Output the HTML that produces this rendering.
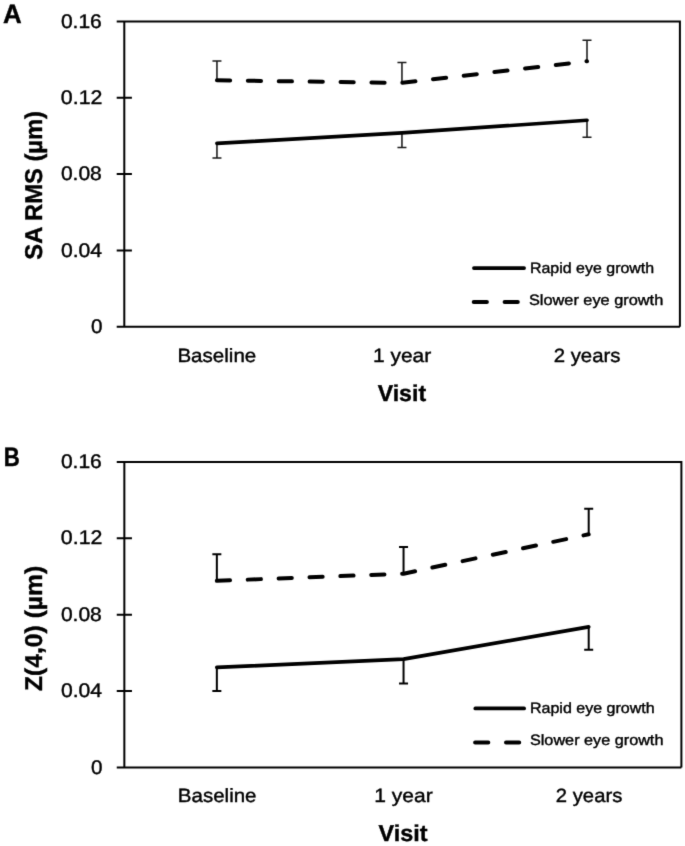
<!DOCTYPE html>
<html><head><meta charset="utf-8"><style>
html,body{margin:0;padding:0;background:#fff;}
body{width:685px;height:846px;overflow:hidden;}
svg{display:block;font-family:"Liberation Sans", sans-serif;filter:grayscale(1);text-rendering:geometricPrecision;}
text{fill:#000;stroke:#000;stroke-width:0.4px;}
</style></head><body>
<svg width="685" height="846" viewBox="0 0 685 846">
<defs><filter id="bl" x="0" y="0" width="100%" height="100%" filterUnits="userSpaceOnUse" color-interpolation-filters="sRGB"><feConvolveMatrix order="3" kernelMatrix="0.01134 0.08382 0.01134 0.08382 0.61935 0.08382 0.01134 0.08382 0.01134" edgeMode="duplicate"/></filter></defs><g filter="url(#bl)"><rect width="685" height="846" fill="#fff"/>
<path d="M124.3 21.45V326.75M116.7 326.75H679.9M116.7 21.45H679.9V326.75" fill="none" stroke="#000" stroke-width="2" stroke-linejoin="miter"/>
<path d="M116.7 97.78H131.9M116.7 174.10H131.9M116.7 250.43H131.9" stroke="#000" stroke-width="2"/>
<path d="M216.95 143.45V157.95M212.45 157.95H221.45M401.95 132.95V147.5M397.45 147.5H406.45M587.0 120.25V137.2M582.5 137.2H591.5M216.95 80.3V60.9M212.45 60.9H221.45M401.95 82.9V62.4M397.45 62.4H406.45M587.0 61.3V40.3M582.5 40.3H591.5" fill="none" stroke="#1a1a1a" stroke-width="1.55"/>
<polyline points="216.95,143.45 401.95,132.95 587.0,120.25" fill="none" stroke="#000" stroke-width="3.7" stroke-linecap="round" stroke-linejoin="round"/>
<polyline points="216.95,80.3 401.95,82.9 587.0,61.3" fill="none" stroke="#000" stroke-width="4" stroke-linecap="round" stroke-linejoin="round" stroke-dasharray="13.2 17.7"/>
<path d="M473.9 268.1H524.1" stroke="#000" stroke-width="3.7" stroke-linecap="round"/>
<path d="M473.7 302.0H518.2" stroke="#000" stroke-width="4" stroke-linecap="round" stroke-dasharray="13.2 17.7"/>
<path d="M124.35 461.9V767.45M116.75 767.45H681.4M116.75 461.9H681.4V767.45" fill="none" stroke="#000" stroke-width="2" stroke-linejoin="miter"/>
<path d="M116.75 538.29H131.95M116.75 614.67H131.95M116.75 691.06H131.95" stroke="#000" stroke-width="2"/>
<path d="M216.85 667.4V691.0M212.35 691.0H221.35M403.55 659.1V683.55M399.05 683.55H408.05M588.7 626.9V649.85M584.2 649.85H593.2M216.85 580.8V554.35M212.35 554.35H221.35M403.55 573.7V546.95M399.05 546.95H408.05M588.7 534.3V508.8M584.2 508.8H593.2" fill="none" stroke="#000" stroke-width="2.0"/>
<polyline points="216.85,667.4 403.55,659.1 588.7,626.9" fill="none" stroke="#000" stroke-width="3.7" stroke-linecap="round" stroke-linejoin="round"/>
<polyline points="216.85,580.8 403.55,573.7 588.7,534.3" fill="none" stroke="#000" stroke-width="4" stroke-linecap="round" stroke-linejoin="round" stroke-dasharray="13.2 17.7"/>
<path d="M475.3 708.4H524.1" stroke="#000" stroke-width="3.7" stroke-linecap="round"/>
<path d="M475.1 742.5H520.2" stroke="#000" stroke-width="4" stroke-linecap="round" stroke-dasharray="13.2 17.7"/>
<text x="3.11" y="22.67" font-size="26.50" font-weight="bold" textLength="18.69" lengthAdjust="spacingAndGlyphs">A</text>
<text x="3.63" y="466.30" font-size="26.50" font-weight="bold" textLength="16.05" lengthAdjust="spacingAndGlyphs">B</text>
<text x="60.90" y="27.61" font-size="19.75" textLength="40.92" lengthAdjust="spacingAndGlyphs">0.16</text>
<text x="60.88" y="103.94" font-size="19.75" textLength="41.60" lengthAdjust="spacingAndGlyphs">0.12</text>
<text x="60.90" y="180.26" font-size="19.75" textLength="40.93" lengthAdjust="spacingAndGlyphs">0.08</text>
<text x="60.91" y="256.59" font-size="19.75" textLength="41.15" lengthAdjust="spacingAndGlyphs">0.04</text>
<text x="91.08" y="332.91" font-size="19.75" textLength="11.49" lengthAdjust="spacingAndGlyphs">0</text>
<text x="60.90" y="468.06" font-size="19.75" textLength="40.92" lengthAdjust="spacingAndGlyphs">0.16</text>
<text x="60.88" y="544.45" font-size="19.75" textLength="41.60" lengthAdjust="spacingAndGlyphs">0.12</text>
<text x="60.90" y="620.83" font-size="19.75" textLength="40.93" lengthAdjust="spacingAndGlyphs">0.08</text>
<text x="60.91" y="697.22" font-size="19.75" textLength="41.15" lengthAdjust="spacingAndGlyphs">0.04</text>
<text x="91.08" y="773.61" font-size="19.75" textLength="11.49" lengthAdjust="spacingAndGlyphs">0</text>
<text transform="translate(41.50 259.65) rotate(-90)" font-size="24.30" font-weight="bold" textLength="148.65" lengthAdjust="spacingAndGlyphs">SA RMS (µm)</text>
<text transform="translate(41.50 691.03) rotate(-90)" font-size="24.30" font-weight="bold" textLength="125.25" lengthAdjust="spacingAndGlyphs">Z(4,0) (µm)</text>
<text x="177.40" y="361.85" font-size="19.20" textLength="78.89" lengthAdjust="spacingAndGlyphs">Baseline</text>
<text x="372.94" y="361.85" font-size="19.20" textLength="58.27" lengthAdjust="spacingAndGlyphs">1 year</text>
<text x="553.68" y="361.85" font-size="19.20" textLength="66.85" lengthAdjust="spacingAndGlyphs">2 years</text>
<text x="177.88" y="802.05" font-size="19.20" textLength="78.66" lengthAdjust="spacingAndGlyphs">Baseline</text>
<text x="374.26" y="802.05" font-size="19.20" textLength="58.45" lengthAdjust="spacingAndGlyphs">1 year</text>
<text x="555.85" y="802.05" font-size="19.20" textLength="66.42" lengthAdjust="spacingAndGlyphs">2 years</text>
<text x="377.70" y="400.90" font-size="22.95" font-weight="bold" textLength="48.42" lengthAdjust="spacingAndGlyphs">Visit</text>
<text x="378.62" y="841.40" font-size="22.95" font-weight="bold" textLength="48.95" lengthAdjust="spacingAndGlyphs">Visit</text>
<text x="529.96" y="273.00" font-size="15.00" textLength="124.20" lengthAdjust="spacingAndGlyphs">Rapid eye growth</text>
<text x="528.93" y="304.70" font-size="15.00" textLength="134.32" lengthAdjust="spacingAndGlyphs">Slower eye growth</text>
<text x="529.93" y="713.10" font-size="15.00" textLength="124.73" lengthAdjust="spacingAndGlyphs">Rapid eye growth</text>
<text x="529.94" y="745.10" font-size="15.00" textLength="133.48" lengthAdjust="spacingAndGlyphs">Slower eye growth</text>
</g></svg>
</body></html>
